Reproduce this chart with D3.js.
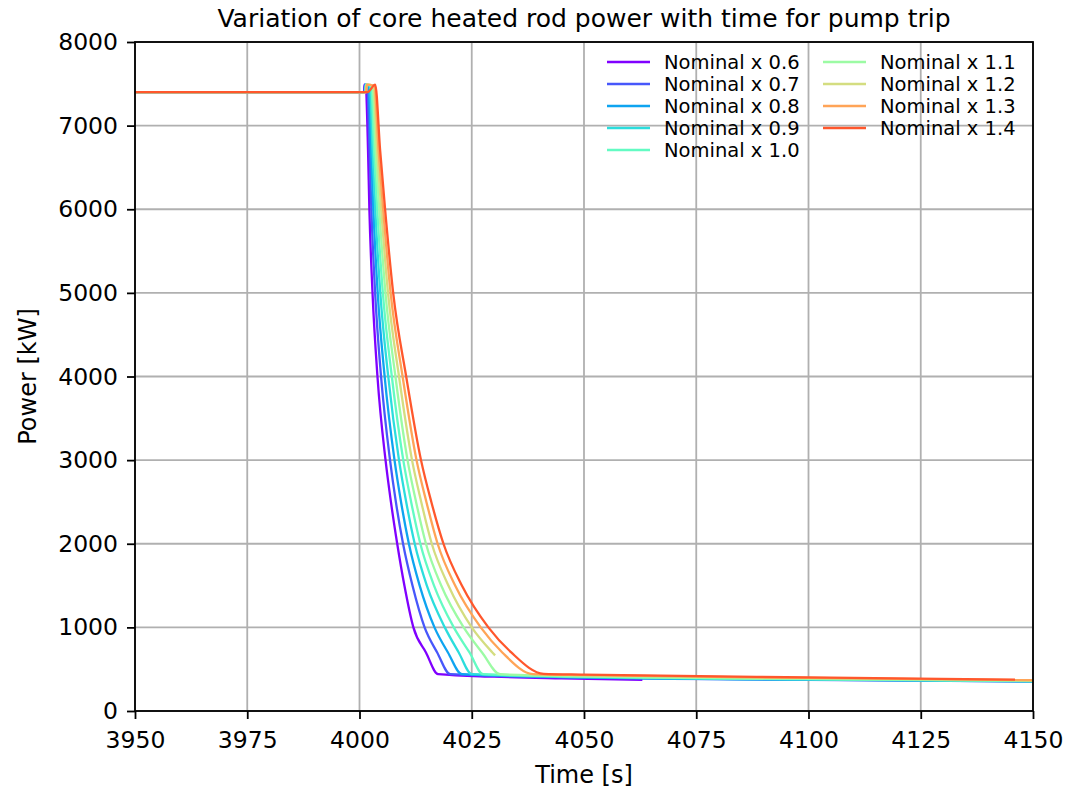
<!DOCTYPE html>
<html>
<head>
<meta charset="utf-8">
<script src="https://cdn.jsdelivr.net/npm/d3@7"></script>
<style>
  body { margin: 0; background: #fff; }
  text { font-family: "DejaVu Sans", sans-serif; fill: #000; }
</style>
</head>
<body>
<svg id="chart" width="1068" height="790"></svg>
<script>
// tick values
const xTicks = [3950, 3975, 4000, 4025, 4050, 4075, 4100, 4125, 4150];
const yTicks = [0, 1000, 2000, 3000, 4000, 5000, 6000, 7000, 8000];

const labels = ["Nominal x 0.6", "Nominal x 0.7", "Nominal x 0.8", "Nominal x 0.9", "Nominal x 1.0",
  "Nominal x 1.1", "Nominal x 1.2", "Nominal x 1.3", "Nominal x 1.4"];
const colours = ["#8000ff", "#4757fb", "#0ea4f0", "#2bdddd", "#63fbc3",
  "#9cfba4", "#d4dd80", "#ffa457", "#ff572c"];

// [time s, power kW]
const nominal_06 = [[3950, 7400], [4001.0, 7400], [4001.1, 7490], [4001.4, 7475], [4001.9, 6700], [4002.2, 6000],
  [4002.9, 5000], [4004.0, 4000], [4005.8, 3000], [4007.0, 2500], [4008.4, 2000], [4010.0, 1500], [4012.0, 1000],
  [4014.8, 700], [4017.5, 440], [4030, 410], [4045, 390], [4063, 372]];
const nominal_07 = [[3950, 7400], [4001.1, 7400], [4001.2, 7490], [4001.7, 7475], [4002.24, 6700], [4002.64, 6000],
  [4003.48, 5000], [4004.8, 4000], [4006.8, 3000], [4008.1, 2500], [4009.7, 2000], [4011.8, 1500], [4014.5, 1000],
  [4017.3, 700], [4020.2, 440], [4050, 398], [4100, 372], [4150, 352]];
const nominal_08 = [[3950, 7400], [4001.2, 7400], [4001.3, 7490], [4002.0, 7475], [4002.58, 6700], [4003.08, 6000],
  [4004.05, 5000], [4005.6, 4000], [4007.8, 3000], [4009.25, 2500], [4011.0, 2000], [4013.4, 1500], [4016.7, 1000],
  [4019.7, 700], [4022.8, 440], [4050, 402], [4100, 374], [4150, 354]];
const nominal_09 = [[3950, 7400], [4001.3, 7400], [4001.4, 7490], [4002.3, 7475], [4002.91, 6700], [4003.51, 6000],
  [4004.63, 5000], [4006.4, 4000], [4008.8, 3000], [4010.4, 2500], [4012.3, 2000], [4015.0, 1500], [4019.0, 1000],
  [4022.1, 700], [4025.0, 440], [4050, 406], [4100, 377], [4150, 356]];
const nominal_10 = [[3950, 7400], [4001.3, 7400], [4001.4, 7490], [4002.6, 7475], [4003.25, 6700], [4003.95, 6000],
  [4005.2, 5000], [4007.2, 4000], [4009.75, 3000], [4011.5, 2500], [4013.55, 2000], [4016.6, 1500], [4021.0, 1000],
  [4024.5, 700], [4027.5, 440], [4050, 410], [4100, 380], [4150, 358]];
const nominal_11 = [[3950, 7400], [4001.4, 7400], [4001.5, 7490], [4002.9, 7475], [4003.59, 6700], [4004.39, 6000],
  [4005.78, 5000], [4008.0, 4000], [4010.7, 3000], [4012.6, 2500], [4014.8, 2000], [4018.2, 1500], [4023.2, 1000],
  [4027.3, 700], [4031.3, 440], [4050, 415], [4100, 384], [4150, 361]];
const nominal_12 = [[3950, 7400], [4001.5, 7400], [4001.6, 7490], [4003.1, 7475], [4003.93, 6700], [4004.83, 6000],
  [4006.35, 5000], [4008.8, 4000], [4011.7, 3000], [4013.75, 2500], [4016.1, 2000], [4019.8, 1500], [4025.0, 1000],
  [4029.6, 700], [4030.2, 665]];
const nominal_13 = [[3950, 7400], [4001.5, 7400], [4001.6, 7490], [4003.3, 7475], [4004.26, 6700], [4005.26, 6000],
  [4006.93, 5000], [4009.6, 4000], [4012.7, 3000], [4014.9, 2500], [4017.4, 2000], [4021.3, 1500], [4027.0, 1000],
  [4031.8, 700], [4038.6, 442], [4050, 428], [4100, 395], [4150, 368]];
const nominal_14 = [[3950, 7400], [4001.8, 7400], [4003.5, 7490], [4004.6, 6700], [4005.7, 6000],
  [4007.5, 5000], [4010.4, 4000], [4013.7, 3000], [4016.0, 2500], [4018.7, 2000], [4022.8, 1500], [4028.7, 1000],
  [4033.8, 700], [4041.0, 445], [4050, 436], [4100, 402], [4146, 374]];

const series = [nominal_06, nominal_07, nominal_08, nominal_09, nominal_10,
  nominal_11, nominal_12, nominal_13, nominal_14];

const svg = d3.select("#chart");
const mLeft = 135, mRight = 1033, mTop = 42, mBottom = 711;

const x = d3.scaleLinear().domain([3950, 4150]).range([mLeft, mRight]);
const y = d3.scaleLinear().domain([0, 8000]).range([mBottom, mTop]);

svg.append("defs").append("clipPath").attr("id", "plot-clip")
  .append("rect").attr("x", mLeft).attr("y", mTop)
  .attr("width", mRight - mLeft).attr("height", mBottom - mTop);

// grid
const grid = svg.append("g").attr("stroke", "#b0b0b0").attr("stroke-width", 1.8);
grid.selectAll(".gx").data(xTicks).join("line").attr("class", "gx")
  .attr("x1", d => x(d)).attr("x2", d => x(d)).attr("y1", mTop).attr("y2", mBottom);
grid.selectAll(".gy").data(yTicks).join("line").attr("class", "gy")
  .attr("y1", d => y(d)).attr("y2", d => y(d)).attr("x1", mLeft).attr("x2", mRight);

// lines
const line = d3.line().x(d => x(d[0])).y(d => y(d[1])).curve(d3.curveMonotoneX);
svg.append("g").attr("clip-path", "url(#plot-clip)")
  .selectAll("path").data(series).join("path")
  .attr("d", line)
  .attr("fill", "none")
  .attr("stroke", (d, i) => colours[i])
  .attr("stroke-width", 2.3)
  .attr("stroke-linejoin", "round");

// axes
const xAxis = svg.append("g").attr("transform", `translate(0,${mBottom})`)
  .call(d3.axisBottom(x).tickValues(xTicks).tickFormat(d3.format("d")).tickSize(8).tickPadding(12));
const yAxis = svg.append("g").attr("transform", `translate(${mLeft},0)`)
  .call(d3.axisLeft(y).tickValues(yTicks).tickFormat(d3.format("d")).tickSize(8).tickPadding(9));
[xAxis, yAxis].forEach(g => {
  g.select(".domain").remove();
  g.selectAll(".tick line").attr("stroke", "#000").attr("stroke-width", 1.8);
  g.selectAll(".tick text").attr("font-size", "23.5px").attr("font-family", "DejaVu Sans").attr("fill", "#000");
});

// frame
svg.append("rect").attr("x", mLeft).attr("y", mTop)
  .attr("width", mRight - mLeft).attr("height", mBottom - mTop)
  .attr("fill", "none").attr("stroke", "#000").attr("stroke-width", 1.8);

// title and labels
svg.append("text").attr("x", (mLeft + mRight) / 2).attr("y", 27)
  .attr("text-anchor", "middle").attr("font-size", "25px")
  .text("Variation of core heated rod power with time for pump trip");
svg.append("text").attr("x", (mLeft + mRight) / 2).attr("y", 783)
  .attr("text-anchor", "middle").attr("font-size", "24px").text("Time [s]");
svg.append("text").attr("transform", `translate(36,${(mTop + mBottom) / 2}) rotate(-90)`)
  .attr("text-anchor", "middle").attr("font-size", "24px").text("Power [kW]");

// legend, two columns
const legend = svg.append("g");
const items = legend.selectAll("g").data(labels).join("g")
  .attr("transform", (d, i) => `translate(${i < 5 ? 607 : 823},${62 + (i % 5) * 22})`);
items.append("line").attr("x1", 0).attr("x2", 43)
  .attr("stroke", (d, i) => colours[i]).attr("stroke-width", 2.3);
items.append("text").attr("x", 57).attr("dy", "0.36em")
  .attr("font-size", "19.5px").text(d => d);
</script>
</body>
</html>
